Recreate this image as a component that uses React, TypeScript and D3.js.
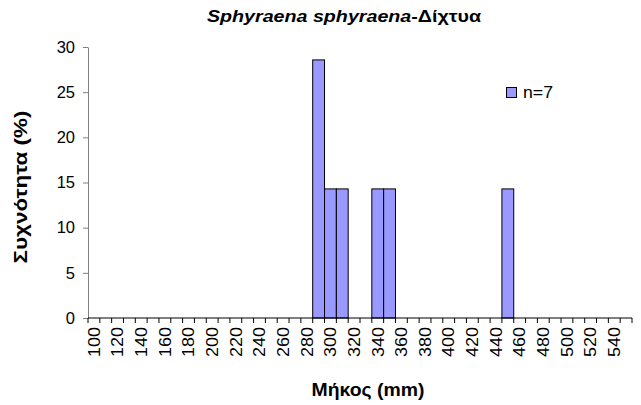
import React, { useRef, useEffect } from 'react';
import * as d3 from 'd3';

// length classes (mm), one per 10 mm
const lengthClasses = d3.range(100, 560, 10).map(String);
// frequency (%) for the classes that have fish; all others are 0
const presentClasses = ['290', '300', '310', '340', '350', '450'];
const presentFreq = [28.57, 14.29, 14.29, 14.29, 14.29, 14.29];
const yTicks = [0, 5, 10, 15, 20, 25, 30];
const legendLabel = 'n=7';

export default function App() {
  const ref = useRef<SVGSVGElement>(null);
  const width = 641;
  const height = 405;

  useEffect(() => {
    if (!ref.current) return;
    const svg = d3.select(ref.current);
    svg.selectAll('*').remove();

    const font = 'Liberation Sans, Arial, sans-serif';
    const margin = { left: 88, right: 9, top: 47, bottom: 87 };

    const x = d3.scaleBand<string>()
      .domain(lengthClasses)
      .range([margin.left, width - margin.right])
      .padding(0);

    const y = d3.scaleLinear()
      .domain([0, 30])
      .range([height - margin.bottom, margin.top]);

    const data = lengthClasses.map(c => {
      const i = presentClasses.indexOf(c);
      return { c, v: i >= 0 ? presentFreq[i] : 0 };
    });

    // title
    const title = svg.append('text')
      .attr('x', 344)
      .attr('y', 22)
      .attr('text-anchor', 'middle')
      .attr('textLength', 274)
      .attr('lengthAdjust', 'spacingAndGlyphs')
      .style('font', `bold 16.5px ${font}`);
    title.append('tspan').style('font-style', 'italic').text('Sphyraena sphyraena');
    title.append('tspan').text('-Δίχτυα');

    // bars
    svg.append('g')
      .selectAll('rect')
      .data(data.filter(d => d.v > 0))
      .join('rect')
      .attr('x', d => x(d.c)!)
      .attr('y', d => y(d.v))
      .attr('width', x.bandwidth())
      .attr('height', d => y(0) - y(d.v))
      .attr('fill', '#9999FF')
      .attr('stroke', '#000')
      .attr('stroke-width', 1);

    // y axis
    const yAxis = svg.append('g')
      .attr('transform', `translate(${margin.left},0)`)
      .call(d3.axisLeft(y).tickValues(yTicks).tickSize(5).tickSizeOuter(0));
    yAxis.select('.domain').attr('stroke', '#808080');
    yAxis.selectAll('line').attr('stroke', '#808080');
    yAxis.selectAll('text')
      .attr('x', -13)
      .style('font', `16.5px ${font}`)
      .attr('fill', '#000');

    // x axis: ticks between categories
    const xg = svg.append('g')
      .attr('transform', `translate(0,${y(0)})`);
    xg.append('line')
      .attr('x1', margin.left)
      .attr('x2', width - margin.right)
      .attr('stroke', '#000');
    const edges = lengthClasses.map(c => x(c)!).concat([x(lengthClasses[lengthClasses.length - 1])! + x.bandwidth()]);
    xg.selectAll('line.tick')
      .data(edges)
      .join('line')
      .attr('class', 'tick')
      .attr('x1', d => d)
      .attr('x2', d => d)
      .attr('y1', 0)
      .attr('y2', 5)
      .attr('stroke', '#000');
    xg.selectAll('text')
      .data(lengthClasses.filter((_, i) => i % 2 === 0))
      .join('text')
      .attr('transform', d => `translate(${x(d)! + x.bandwidth() / 2 + 5.8},9) rotate(-90)`)
      .attr('text-anchor', 'end')
      .attr('textLength', 30)
      .attr('lengthAdjust', 'spacingAndGlyphs')
      .style('font', `16px ${font}`)
      .text(d => d);

    // axis titles
    svg.append('text')
      .attr('transform', `translate(27,187) rotate(-90)`)
      .attr('text-anchor', 'middle')
      .attr('textLength', 153)
      .attr('lengthAdjust', 'spacingAndGlyphs')
      .style('font', `bold 18px ${font}`)
      .text('Συχνότητα (%)');
    svg.append('text')
      .attr('x', 368)
      .attr('y', 396)
      .attr('text-anchor', 'middle')
      .attr('textLength', 113)
      .attr('lengthAdjust', 'spacingAndGlyphs')
      .style('font', `bold 18px ${font}`)
      .text('Μήκος (mm)');

    // legend
    svg.append('rect')
      .attr('x', 506.5)
      .attr('y', 87.5)
      .attr('width', 10)
      .attr('height', 10)
      .attr('fill', '#9999FF')
      .attr('stroke', '#000');
    svg.append('text')
      .attr('x', 523)
      .attr('y', 98)
      .attr('textLength', 30)
      .attr('lengthAdjust', 'spacingAndGlyphs')
      .style('font', `16px ${font}`)
      .text(legendLabel);
  }, []);

  return (
    <svg ref={ref} width={width} height={height}
      style={{ position: 'absolute', left: 0, top: 0, background: '#fff' }} />
  );
}
